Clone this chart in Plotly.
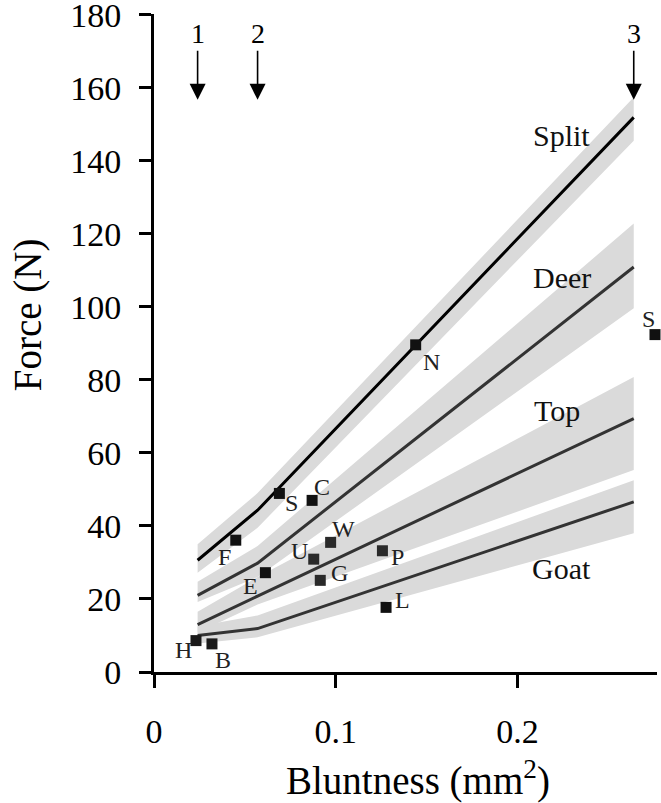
import plotly.graph_objects as go

# ---------------- data ----------------
X_KNOTS = [0.024, 0.057, 0.264]          # bluntness values marked by arrows 1, 2, 3
ARROW_LABELS = ["1", "2", "3"]

SERIES_NAMES = ["Split", "Deer", "Top", "Goat"]
SPLIT_MEAN = [30.6, 44.3, 151.9]
SPLIT_UPPER = [35.0, 49.0, 157.4]
SPLIT_LOWER = [27.2, 39.5, 145.5]

DEER_MEAN = [21.0, 29.8, 110.9]
DEER_UPPER = [24.7, 34.5, 122.8]
DEER_LOWER = [19.2, 26.0, 99.6]

TOP_MEAN = [13.0, 20.8, 69.4]
TOP_UPPER = [16.5, 26.0, 80.8]
TOP_LOWER = [10.8, 18.5, 55.3]

GOAT_MEAN = [10.0, 11.9, 46.6]
GOAT_UPPER = [12.5, 15.5, 52.5]
GOAT_LOWER = [7.8, 9.5, 38.0]

POINT_NAMES = ["S", "C", "F", "W", "U", "E", "G", "P", "L", "H", "B", "N", "S"]
POINT_X = [0.069, 0.087, 0.045, 0.0972, 0.0879, 0.0613, 0.0915, 0.1257, 0.1277, 0.0231, 0.0319, 0.144, 0.2757]
POINT_Y = [48.9, 47.0, 36.1, 35.5, 30.9, 27.2, 25.1, 33.2, 17.7, 8.6, 7.7, 89.6, 92.4]

X_TICKS = [0, 0.1, 0.2]
X_TICK_TEXT = ["0", "0.1", "0.2"]
Y_TICKS = [0, 20, 40, 60, 80, 100, 120, 140, 160, 180]

# ---------------- style / layout ----------------
FONT = "Liberation Serif, Times New Roman, serif"
BAND_COLOR = "#dadada"
LINE_COLORS = ["#000000", "#333333", "#333333", "#333333"]
POINT_COLORS = ["#111", "#111", "#111", "#2a2a2a", "#2a2a2a", "#111", "#2a2a2a",
                "#2a2a2a", "#111", "#1a1a1a", "#1a1a1a", "#111", "#111"]
# label offsets in pixels (dx right, dy down) relative to each square
LABEL_OFFSETS = [(12, 10), (10, -13), (-11, 17), (13, -13), (-14, -8), (-15, 13),
                 (19, -7), (15, 6), (16, -7), (-12, 9), (11, 16), (16, 17), (-7, -16)]
# series name label positions (data coords)
SERIES_LABEL_POS = [(0.2244, 146.9), (0.2244, 108.1), (0.2216, 71.7), (0.2244, 28.4)]

fig = go.Figure()

series = [
    (SPLIT_MEAN, SPLIT_UPPER, SPLIT_LOWER),
    (DEER_MEAN, DEER_UPPER, DEER_LOWER),
    (TOP_MEAN, TOP_UPPER, TOP_LOWER),
    (GOAT_MEAN, GOAT_UPPER, GOAT_LOWER),
]

# bands
for mean, up, lo in series:
    fig.add_trace(go.Scatter(
        x=X_KNOTS + X_KNOTS[::-1], y=up + lo[::-1],
        fill="toself", fillcolor=BAND_COLOR, line=dict(width=0),
        mode="lines", hoverinfo="skip", showlegend=False))

# lines
for (mean, up, lo), col in zip(series, LINE_COLORS):
    fig.add_trace(go.Scatter(
        x=X_KNOTS, y=mean, mode="lines",
        line=dict(color=col, width=3), showlegend=False))

# points
fig.add_trace(go.Scatter(
    x=POINT_X, y=POINT_Y, mode="markers",
    marker=dict(symbol="square", size=11, color=POINT_COLORS, line=dict(width=0)),
    cliponaxis=False, showlegend=False))

annotations = []
for name, px, py, (dx, dy) in zip(POINT_NAMES, POINT_X, POINT_Y, LABEL_OFFSETS):
    annotations.append(dict(x=px, y=py, xref="x", yref="y", text=name, showarrow=False,
                            xshift=dx, yshift=-dy,
                            font=dict(family=FONT, size=24, color="#222")))

for name, (lx, ly) in zip(SERIES_NAMES, SERIES_LABEL_POS):
    annotations.append(dict(x=lx, y=ly, xref="x", yref="y", text=name, showarrow=False,
                            font=dict(family=FONT, size=30, color="#111")))

for lab, kx in zip(ARROW_LABELS, X_KNOTS):
    annotations.append(dict(x=kx, y=156.7, xref="x", yref="y", text=lab,
                            showarrow=True, ax=0, ay=-66, arrowhead=2, arrowsize=2,
                            arrowwidth=1.6, arrowcolor="#000",
                            font=dict(family=FONT, size=28, color="#000")))

# axis titles
annotations.append(dict(x=-0.25, y=0.5426, xref="paper", yref="paper", text="Force (N)",
                        textangle=-90, showarrow=False, xanchor="center", yanchor="middle",
                        font=dict(family=FONT, size=39, color="#000")))
annotations.append(dict(x=0.525, y=-0.162, xref="paper", yref="paper",
                        text="Bluntness (mm<sup>2</sup>)", showarrow=False,
                        xanchor="center", yanchor="middle",
                        font=dict(family=FONT, size=39, color="#000")))

fig.update_layout(
    width=661, height=803,
    margin=dict(l=154, r=4, t=14, b=131, autoexpand=False),
    paper_bgcolor="white", plot_bgcolor="white",
    showlegend=False,
    annotations=annotations,
    xaxis=dict(range=[0, 0.2768], tickvals=X_TICKS, ticktext=X_TICK_TEXT,
               automargin=False, ticklabeloverflow="allow",
               showgrid=False, zeroline=False, showline=True, linecolor="#000",
               linewidth=3, ticks="outside", ticklen=13, tickwidth=3, tickcolor="#000",
               ticklabelstandoff=14,
               tickfont=dict(family=FONT, size=34, color="#000")),
    yaxis=dict(range=[0, 180.2], tickvals=Y_TICKS,
               automargin=False, ticklabeloverflow="allow",
               showgrid=False, zeroline=False, showline=True, linecolor="#000",
               linewidth=3, ticks="outside", ticklen=12, tickwidth=3, tickcolor="#000",
               ticklabelstandoff=11,
               tickfont=dict(family=FONT, size=34, color="#000")),
)

fig.write_html("out.html", config={"displayModeBar": False},
               post_script="document.body.style.margin='0';document.body.style.padding='0';")
